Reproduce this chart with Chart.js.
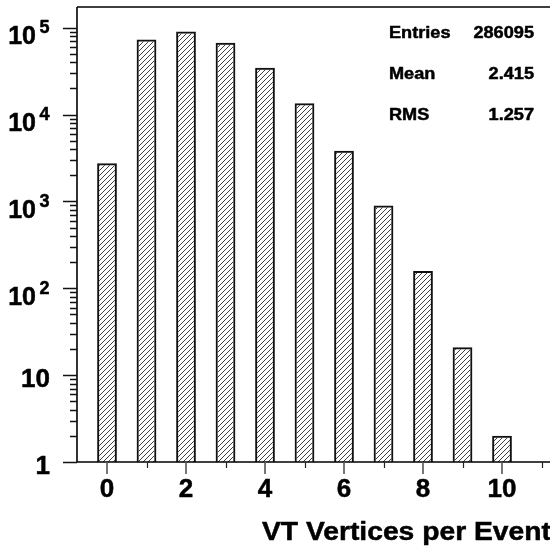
<!DOCTYPE html>
<html>
<head>
<meta charset="utf-8">
<script src="https://cdn.jsdelivr.net/npm/chart.js@4.4.1/dist/chart.umd.min.js"></script>
<style>
  html, body { margin: 0; padding: 0; background: #fff; overflow: hidden; }
  #wrap { width: 550px; height: 550px; position: relative; }
</style>
</head>
<body>
<div id="wrap"><canvas id="c" width="550" height="550"></canvas></div>
<script>
// Number of reconstructed vertices per event and how many events had that many
const vertices = [0, 1, 2, 3, 4, 5, 6, 7, 8, 9, 10];
const events   = [2750, 73000, 90500, 67000, 34600, 13450, 3840, 900, 158, 21, 2];

// Axis ticks
const xMajorTicks = [0, 2, 4, 6, 8, 10];
const xMinorTicks = [1, 3, 5, 7, 9, 11];
const yDecades    = [0, 1, 2, 3, 4, 5];

// Statistics box
const statNames  = ['Entries', 'Mean', 'RMS'];
const statValues = ['286095', '2.415', '1.257'];

const xTitle = 'VT Vertices per Event';

const FONT = '"Liberation Sans", Arial, Helvetica, sans-serif';

// Diagonal "///" fill used for the histogram bars
function hatchPattern(ctx) {
  const s = 5;
  const t = document.createElement('canvas');
  t.width = s; t.height = s;
  const g = t.getContext('2d');
  g.strokeStyle = '#2a2a2a';
  g.lineWidth = 0.9;
  g.beginPath();
  g.moveTo(0, s); g.lineTo(s, 0);
  g.moveTo(-1, 1); g.lineTo(1, -1);
  g.moveTo(s - 1, s + 1); g.lineTo(s + 1, s - 1);
  g.stroke();
  return ctx.createPattern(t, 'repeat');
}

// Heavy bold text, optionally stretched horizontally
function text(ctx, str, x, y, size, align, sx) {
  ctx.save();
  ctx.font = 'bold ' + size + 'px ' + FONT;
  ctx.textAlign = align;
  ctx.textBaseline = 'alphabetic';
  ctx.fillStyle = '#000';
  ctx.strokeStyle = '#000';
  ctx.lineWidth = 0.5;
  ctx.lineJoin = 'round';
  ctx.translate(x, y);
  ctx.scale(sx || 1, 1);
  ctx.fillText(str, 0, 0);
  ctx.strokeText(str, 0, 0);
  ctx.restore();
}

// Frame, ticks, labels, stats and axis title drawn from the chart's scales
const frameAxes = {
  id: 'frameAxes',
  afterDraw(chart) {
    const ctx = chart.ctx;
    const a = chart.chartArea;
    const xs = chart.scales.x, ys = chart.scales.y;

    ctx.save();
    ctx.lineCap = 'butt';

    // Frame: left axis, top edge, bottom axis
    ctx.strokeStyle = '#000';
    ctx.lineWidth = 1.6;
    ctx.beginPath();
    ctx.moveTo(a.left, a.top); ctx.lineTo(a.left, a.bottom);
    ctx.moveTo(a.left, a.top); ctx.lineTo(a.right + 2, a.top);
    ctx.moveTo(a.left, a.bottom); ctx.lineTo(a.right + 2, a.bottom);
    ctx.stroke();

    // Y axis ticks (log): major at decades, minor at 2..9
    ctx.lineWidth = 1.3;
    ctx.strokeStyle = '#111';
    ctx.beginPath();
    yDecades.forEach(d => {
      const py = Math.round(ys.getPixelForValue(Math.pow(10, d))) + 0.5;
      ctx.moveTo(a.left - 14, py); ctx.lineTo(a.left, py);
      for (let m = 2; m <= 9; m++) {
        const v = m * Math.pow(10, d);
        if (v > ys.max) break;
        const pm = Math.round(ys.getPixelForValue(v)) + 0.5;
        ctx.moveTo(a.left - 7, pm); ctx.lineTo(a.left, pm);
      }
    });
    ctx.stroke();

    // X axis ticks, pointing down
    ctx.strokeStyle = '#555';
    ctx.lineWidth = 1.6;
    ctx.beginPath();
    xMajorTicks.forEach(v => {
      const px = Math.round(xs.getPixelForValue(v));
      ctx.moveTo(px, a.bottom); ctx.lineTo(px, a.bottom + 12);
    });
    ctx.stroke();
    ctx.strokeStyle = '#222';
    ctx.lineWidth = 1.2;
    ctx.beginPath();
    xMinorTicks.forEach(v => {
      const px = Math.round(xs.getPixelForValue(v)) + 0.5;
      ctx.moveTo(px, a.bottom); ctx.lineTo(px, a.bottom + 6);
    });
    ctx.stroke();
    ctx.restore();

    // Y tick labels: 1, 10, 10^2 ... 10^5
    yDecades.forEach(d => {
      const py = ys.getPixelForValue(Math.pow(10, d));
      if (d === 0) {
        text(ctx, '1', 50, py + 12, 26, 'right');
      } else if (d === 1) {
        text(ctx, '10', 50, py + 12, 26, 'right');
      } else {
        text(ctx, '10', 36, py + 16.5, 25, 'right');
        text(ctx, String(d), 49.5, py + 5.5, 18, 'right');
      }
    });

    // X tick labels
    xMajorTicks.forEach(v => {
      text(ctx, String(v), xs.getPixelForValue(v), 497, 26, 'center');
    });

    // Statistics
    statNames.forEach((n, i) => {
      const y = 37.7 + i * 41;
      text(ctx, n, 389, y, 16.5, 'left', 1.1);
      text(ctx, statValues[i], 534, y, 16.5, 'right', 1.1);
    });

    // X axis title
    text(ctx, xTitle, 262, 540, 25, 'left', 1.13);
  }
};

const canvas = document.getElementById('c');
const ctx = canvas.getContext('2d');

new Chart(ctx, {
  type: 'bar',
  data: {
    datasets: [{
      data: vertices.map((v, i) => ({ x: v, y: events[i] })),
      backgroundColor: hatchPattern(ctx),
      borderColor: '#111',
      borderWidth: 2,
      barPercentage: 0.5,
      categoryPercentage: 1.0
    }]
  },
  options: {
    responsive: false,
    animation: false,
    devicePixelRatio: 1,
    layout: { padding: { left: 77, top: 7, right: 0, bottom: 88 } },
    plugins: { legend: { display: false }, tooltip: { enabled: false } },
    scales: {
      x: { type: 'linear', min: -0.7595, max: 11.215, offset: false, display: false },
      y: { type: 'logarithmic', min: 1, max: 173000, display: false }
    }
  },
  plugins: [frameAxes]
});
</script>
</body>
</html>
